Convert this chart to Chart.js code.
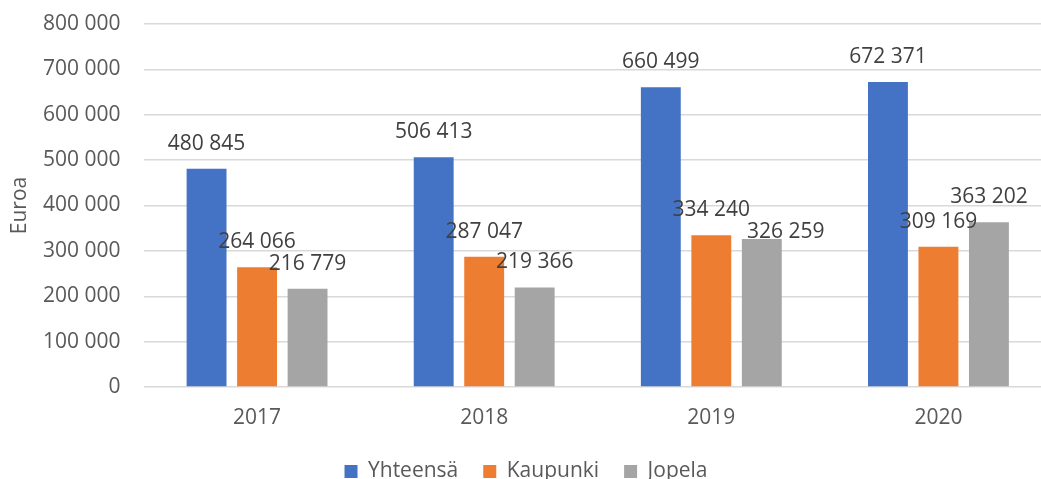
<!DOCTYPE html>
<html>
<head>
<meta charset="utf-8">
<script src="https://cdn.jsdelivr.net/npm/chart.js@4"></script>
<style>
	body { margin: 0; overflow: hidden; background: #fff; }
	#wrap { position: absolute; left: 0; top: 0; width: 1052px; height: 492px; }
</style>
</head>
<body>
<div id="wrap"><canvas id="chart"></canvas></div>
<script>
const years = ['2017', '2018', '2019', '2020'];
const yhteensa = [480845, 506413, 660499, 672371];
const kaupunki = [264066, 287047, 334240, 309169];
const jopela = [216779, 219366, 326259, 363202];
const yMax = 800000;
const yStep = 100000;

const FONT = '"Open Sans", "DejaVu Sans", sans-serif';
const FS = 21;

function fmt(v) {
	return v.toString().replace(/\B(?=(\d{3})+(?!\d))/g, ' ');
}

// value labels above each bar
const barLabels = {
	id: 'barLabels',
	afterDatasetsDraw(chart, args, opts) {
		const ctx = chart.ctx;
		ctx.save();
		ctx.font = FS + 'px ' + FONT;
		ctx.fillStyle = '#404040';
		ctx.textAlign = 'center';
		ctx.textBaseline = 'alphabetic';
		chart.data.datasets.forEach((ds, i) => {
			chart.getDatasetMeta(i).data.forEach((bar, j) => {
				// excel nudged one label sideways to dodge its neighbour
				const nudge = (opts.nudge || {})[i + '-' + j] || [0, 0];
				ctx.fillText(fmt(ds.data[j]), bar.x + nudge[0], bar.y - opts.gap + nudge[1]);
			});
		});
		ctx.restore();
	}
};

new Chart(document.getElementById('chart'), {
	type: 'bar',
	data: {
		labels: years,
		datasets: [
			{ label: 'Yhteensä', data: yhteensa, backgroundColor: '#4472C4' },
			{ label: 'Kaupunki', data: kaupunki, backgroundColor: '#ED7D31' },
			{ label: 'Jopela', data: jopela, backgroundColor: '#A5A5A5' }
		]
	},
	options: {
		responsive: true,
		maintainAspectRatio: false,
		animation: false,
		layout: { padding: { top: 24, left: 0, right: 0, bottom: 0 } },
		datasets: { bar: { categoryPercentage: 0.667, barPercentage: 0.79 } },
		plugins: {
			barLabels: { gap: 19, nudge: { '2-2': [24, 18] } },
			legend: {
				position: 'bottom',
				labels: {
					boxWidth: 13,
					boxHeight: 13,
					padding: 25,
					color: '#595959',
					font: { family: FONT, size: FS }
				}
			},
			tooltip: { enabled: false }
		},
		scales: {
			x: {
				grid: { display: false, drawTicks: false },
				border: { display: false },
				ticks: { color: '#595959', padding: 18, font: { family: FONT, size: FS } },
				afterFit(scale) { scale.height = 49; }
			},
			y: {
				min: 0,
				max: yMax,
				grid: { color: '#d9d9d9', lineWidth: 1.5, drawTicks: false },
				border: { display: false },
				ticks: {
					stepSize: yStep,
					color: '#595959',
					padding: 23,
					font: { family: FONT, size: FS },
					callback: v => fmt(v)
				},
				title: {
					display: true,
					text: 'Euroa',
					color: '#595959',
					padding: { top: 7, bottom: 0 },
					font: { family: FONT, size: FS }
				},
				afterFit(scale) {
					scale.width = 143.5;
					scale.paddingTop = 0;
					scale.paddingBottom = 0;
				}
			}
		}
	},
	plugins: [barLabels]
});
</script>
</body>
</html>
